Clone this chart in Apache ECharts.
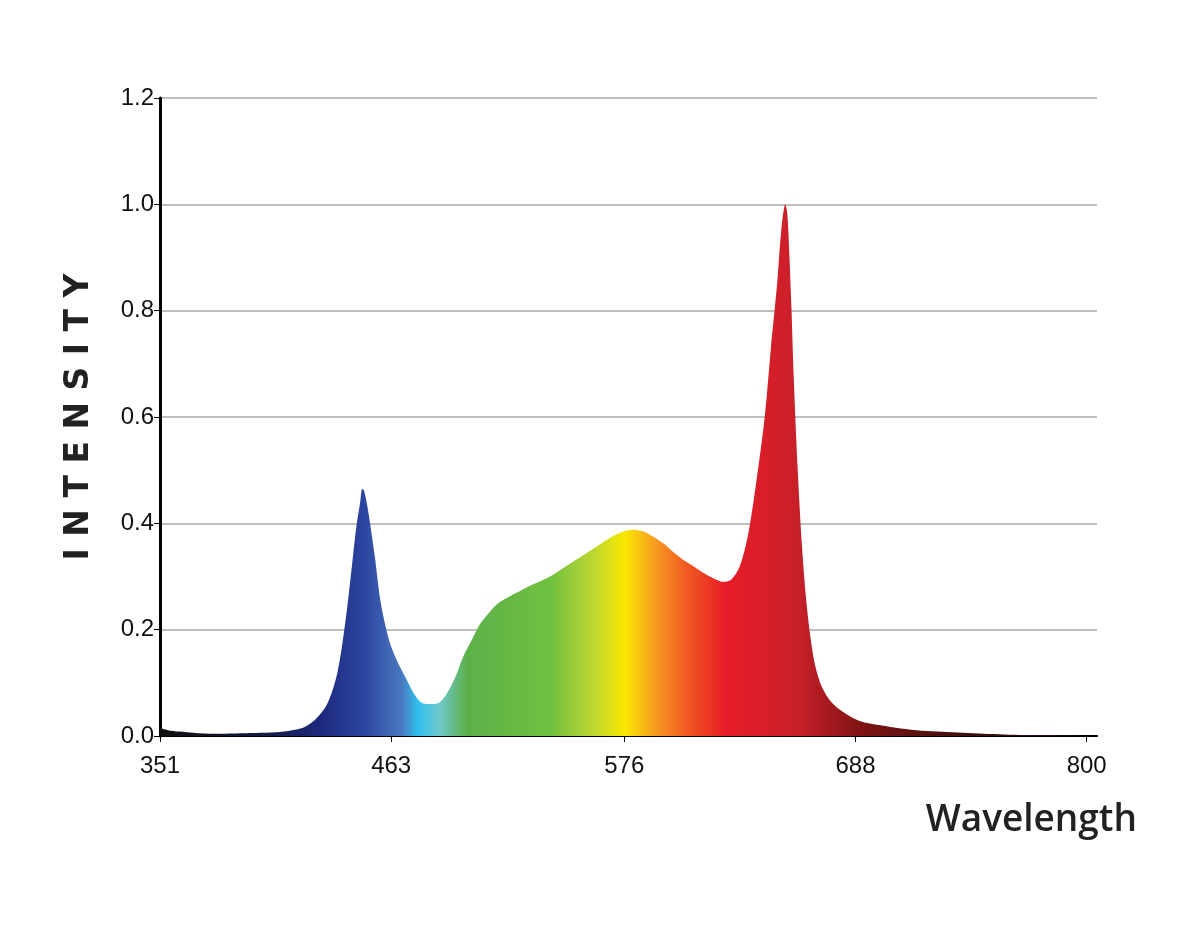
<!DOCTYPE html>
<html><head><meta charset="utf-8">
<script src="https://cdn.jsdelivr.net/npm/echarts@6/dist/echarts.min.js"></script>
<style>html,body{margin:0;background:#fff}#c{width:1200px;height:927px}</style>
</head><body><div id="c"></div>
<script>
const wavelengths = [351,356,362,370,380,390,400,410,420,426,432,437,441,444,446,448,449,450,452,455,458,462,466,470,474,478,482,486,490,494,498,502,506,510,515,520,525,530,540,550,560,570,576,580,585,590,595,600,605,610,615,620,624,628,632,636,640,644,647,650,652,654,655,656,657,658,660,662,664,666,668,670,672,676,682,690,700,710,720,730,740,750,760,770,780,790,800];
const intensity = [0.015,0.01,0.008,0.005,0.004,0.005,0.006,0.008,0.015,0.03,0.06,0.12,0.22,0.32,0.39,0.44,0.465,0.46,0.42,0.34,0.25,0.18,0.14,0.11,0.08,0.062,0.06,0.062,0.08,0.11,0.15,0.18,0.21,0.23,0.25,0.262,0.272,0.282,0.3,0.325,0.35,0.375,0.385,0.388,0.385,0.375,0.362,0.345,0.33,0.318,0.305,0.295,0.29,0.295,0.32,0.38,0.48,0.6,0.73,0.85,0.95,1.0,0.98,0.9,0.8,0.68,0.5,0.36,0.26,0.19,0.14,0.11,0.09,0.065,0.045,0.028,0.02,0.014,0.01,0.008,0.006,0.004,0.003,0.002,0.002,0.001,0.001];
const xTicks = [351,463,576,688,800];
const colorStops = [[351,'#101010'],[400,'#141a40'],[430,'#1e2a80'],[450,'#2c46a0'],[468,'#4a78c0'],[476,'#30c0ee'],[486,'#70c8d0'],[500,'#5cb048'],[540,'#70c040'],[562,'#c0d830'],[576,'#f8e800'],[590,'#f8a020'],[606,'#f05a22'],[625,'#e81c28'],[660,'#c8202a'],[690,'#801414'],[740,'#401010'],[800,'#201010']];
const span = wavelengths[wavelengths.length-1]-wavelengths[0];
const chart = echarts.init(document.getElementById('c'));
chart.setOption({
  animation:false,
  grid:{left:160,right:103,top:98,bottom:191},
  xAxis:{type:'value',min:351,max:805,
    axisLine:{lineStyle:{color:'#000',width:2}},
    axisTick:{customValues:xTicks,length:6,lineStyle:{color:'#000'}},
    axisLabel:{customValues:xTicks,color:'#111',fontSize:24,fontFamily:'Liberation Sans, Arial',margin:18},
    splitLine:{show:false},
    name:'Wavelength',nameLocation:'end',nameGap:0,
    nameTextStyle:{fontSize:37,fontFamily:'Open Sans, DejaVu Sans',fontWeight:600,color:'#222',align:'right',verticalAlign:'top',padding:[66,-40,0,0]}},
  yAxis:{type:'value',min:0,max:1.2,interval:0.2,
    axisLine:{show:true,lineStyle:{color:'#000',width:3}},
    axisTick:{show:true,length:6,lineStyle:{color:'#000'}},
    axisLabel:{color:'#111',fontSize:24,fontFamily:'Liberation Sans, Arial',formatter:v=>v.toFixed(1),margin:6},
    splitLine:{lineStyle:{color:'#aaa',width:1.5}},
    name:'I N T E N S I T Y',nameLocation:'middle',nameGap:64,
    nameTextStyle:{fontSize:33,fontWeight:'bold',fontFamily:'DejaVu Sans',color:'#222'}},
  series:[{type:'line',smooth:0.3,symbol:'none',
    data:wavelengths.map((w,i)=>[w,intensity[i]]),
    lineStyle:{width:0},
    areaStyle:{opacity:1,color:new echarts.graphic.LinearGradient(0,0,1,0,
      colorStops.map(s=>({offset:(s[0]-wavelengths[0])/span,color:s[1]})))}
  }]
});
</script></body></html>
